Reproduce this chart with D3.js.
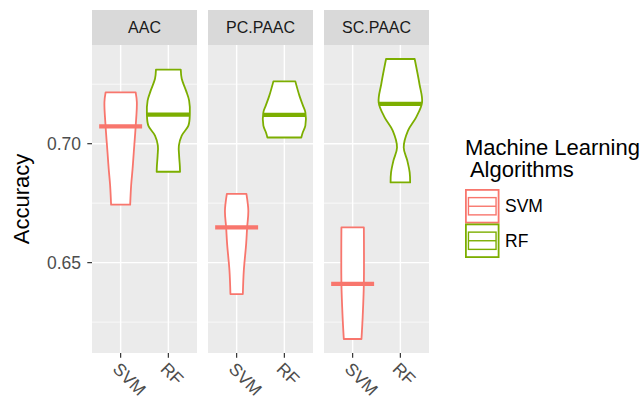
<!DOCTYPE html>
<html>
<head>
<meta charset="utf-8">
<script src="https://cdn.jsdelivr.net/npm/d3@7"></script>
<style>
  html, body { margin: 0; padding: 0; background: #ffffff; }
  svg { display: block; font-family: "Liberation Sans", Arial, Helvetica, sans-serif; }
</style>
</head>
<body>
<svg id="chart" width="643" height="399"></svg>
<script>
// Feature encodings (facets) and classifiers (x categories)
const features = ["AAC", "PC.PAAC", "SC.PAAC"];
const algorithms = ["SVM", "RF"];
const algoColors = ["#F8766D", "#7CAE00"];

// Median accuracy per feature, one array per algorithm (order follows `features`)
const svmMedians = [0.7073, 0.6648, 0.6411];
const rfMedians  = [0.7122, 0.7121, 0.7167];

// Violin outlines: [accuracy, width in category units], top to bottom
const aacSvmProfile = [[0.7216, 0.63], [0.7174, 0.68], [0.7073, 0.63], [0.6963, 0.55], [0.6894, 0.50], [0.6824, 0.44], [0.6744, 0.40]];
const aacRfProfile  = [[0.7311, 0.52], [0.7273, 0.56], [0.7223, 0.74], [0.7181, 0.87], [0.7126, 0.90], [0.7076, 0.84], [0.7034, 0.56], [0.6992, 0.44], [0.6950, 0.45], [0.6908, 0.48], [0.6882, 0.49]];
const pcSvmProfile  = [[0.6789, 0.41], [0.6718, 0.49], [0.6648, 0.44], [0.6580, 0.40], [0.6466, 0.30], [0.6368, 0.26]];
const pcRfProfile   = [[0.7262, 0.46], [0.7202, 0.63], [0.7160, 0.78], [0.7132, 0.88], [0.7076, 0.88], [0.7047, 0.77], [0.7026, 0.71]];
const scSvmProfile  = [[0.6648, 0.47], [0.6411, 0.47], [0.6270, 0.42], [0.6179, 0.37]];
const scRfProfile   = [[0.7356, 0.60], [0.7251, 0.80], [0.7174, 0.91], [0.7111, 0.66], [0.7055, 0.32], [0.6984, 0.14], [0.6929, 0.29], [0.6879, 0.39], [0.6837, 0.41]];

// Y axis ticks
const majorTicks = [0.65, 0.70];
const minorTicks = [0.625, 0.675, 0.725];
const tickLabels = ["0.65", "0.70"];

const profiles = {
  "AAC":     { SVM: aacSvmProfile, RF: aacRfProfile },
  "PC.PAAC": { SVM: pcSvmProfile,  RF: pcRfProfile },
  "SC.PAAC": { SVM: scSvmProfile,  RF: scRfProfile }
};
const medians = { SVM: svmMedians, RF: rfMedians };

const svg = d3.select("#chart");

// Layout
const panelTop = 45, panelBottom = 353, stripTop = 10;
const panelLeft = 92, panelWidth = 105, panelGap = 11;

// Y scale with 5% expansion of the data range
const allAcc = Object.values(profiles).flatMap(p => [...p.SVM, ...p.RF]).map(d => d[0]);
const lo = d3.min(allAcc), hi = d3.max(allAcc), pad = (hi - lo) * 0.05;
const y = d3.scaleLinear().domain([lo - pad, hi + pad]).range([panelBottom, panelTop]);

const color = d3.scaleOrdinal().domain(algorithms).range(algoColors);

features.forEach((feat, fi) => {
  const x0 = panelLeft + fi * (panelWidth + panelGap);
  const x = d3.scalePoint().domain(algorithms).range([x0, x0 + panelWidth]).padding(0.6);
  const step = x.step();
  const g = svg.append("g");

  // panel background
  g.append("rect").attr("x", x0).attr("y", panelTop)
    .attr("width", panelWidth).attr("height", panelBottom - panelTop)
    .attr("fill", "#EBEBEB");

  // strip
  g.append("rect").attr("x", x0).attr("y", stripTop)
    .attr("width", panelWidth).attr("height", panelTop - stripTop)
    .attr("fill", "#D9D9D9");
  g.append("text").attr("x", x0 + panelWidth / 2).attr("y", 33.3)
    .attr("text-anchor", "middle").attr("font-size", 16).attr("fill", "#1A1A1A")
    .text(feat);

  // grid
  g.selectAll(".minor").data(minorTicks).join("line")
    .attr("x1", x0).attr("x2", x0 + panelWidth)
    .attr("y1", d => y(d)).attr("y2", d => y(d))
    .attr("stroke", "#ffffff").attr("stroke-width", 0.7);
  g.selectAll(".major").data(majorTicks).join("line")
    .attr("x1", x0).attr("x2", x0 + panelWidth)
    .attr("y1", d => y(d)).attr("y2", d => y(d))
    .attr("stroke", "#ffffff").attr("stroke-width", 1.4);
  g.selectAll(".vmajor").data(algorithms).join("line")
    .attr("x1", d => x(d)).attr("x2", d => x(d))
    .attr("y1", panelTop).attr("y2", panelBottom)
    .attr("stroke", "#ffffff").attr("stroke-width", 1.4);

  // violins
  algorithms.forEach(algo => {
    const cx = x(algo);
    const area = d3.area()
      .y(d => y(d[0]))
      .x0(d => cx - d[1] * step / 2)
      .x1(d => cx + d[1] * step / 2)
      .curve(d3.curveCatmullRom.alpha(0.5));
    g.append("path").datum(profiles[feat][algo])
      .attr("d", area)
      .attr("fill", "#ffffff")
      .attr("stroke", color(algo))
      .attr("stroke-width", 1.8)
      .attr("stroke-linejoin", "round");
  });

  // median crossbars
  algorithms.forEach(algo => {
    const m = medians[algo][fi];
    const cx = x(algo);
    g.append("line")
      .attr("x1", cx - 0.45 * step).attr("x2", cx + 0.45 * step)
      .attr("y1", y(m)).attr("y2", y(m))
      .attr("stroke", color(algo)).attr("stroke-width", 4.2);
  });

  // x axis ticks and labels
  g.selectAll(".xtick").data(algorithms).join("line")
    .attr("x1", d => x(d)).attr("x2", d => x(d))
    .attr("y1", panelBottom).attr("y2", panelBottom + 4.7)
    .attr("stroke", "#333333").attr("stroke-width", 1.2);
  g.selectAll(".xlab").data(algorithms).join("text")
    .attr("transform", d => `translate(${x(d)},${panelBottom + 8}) rotate(45)`)
    .attr("x", 0).attr("y", 12.6)
    .attr("font-size", 17.5).attr("fill", "#4D4D4D")
    .text(d => d);
});

// y axis ticks and labels
const ya = svg.append("g");
ya.selectAll("line").data(majorTicks).join("line")
  .attr("x1", panelLeft - 4.7).attr("x2", panelLeft)
  .attr("y1", d => y(d)).attr("y2", d => y(d))
  .attr("stroke", "#333333").attr("stroke-width", 1.2);
ya.selectAll("text").data(majorTicks).join("text")
  .attr("x", 81).attr("y", d => y(d)).attr("dy", "0.35em")
  .attr("text-anchor", "end").attr("font-size", 17.5).attr("fill", "#4D4D4D")
  .text((d, i) => tickLabels[i]);

// y axis title
svg.append("text")
  .attr("transform", `translate(29,${(panelTop + panelBottom) / 2}) rotate(-90)`)
  .attr("text-anchor", "middle").attr("font-size", 22).attr("fill", "#000000")
  .text("Accuracy");

// legend
const lg = svg.append("g");
lg.append("text").attr("x", 465).attr("y", 155)
  .attr("font-size", 22).attr("fill", "#000000").text("Machine Learning");
lg.append("text").attr("x", 465).attr("y", 177.3)
  .attr("font-size", 22).attr("fill", "#000000")
  .attr("xml:space", "preserve").style("white-space", "pre")
  .text(" Algorithms");

const keySize = 34.5, keyX = 465, keyY0 = 189;
algorithms.forEach((algo, i) => {
  const ky = keyY0 + i * keySize;
  lg.append("rect").attr("x", keyX + 0.9).attr("y", ky + 0.9)
    .attr("width", keySize - 1.8).attr("height", keySize - 1.8)
    .attr("fill", "#ffffff").attr("stroke", color(algo)).attr("stroke-width", 1.8);
  lg.append("rect").attr("x", keyX + keySize * 0.1).attr("y", ky + keySize * 0.25)
    .attr("width", keySize * 0.8).attr("height", keySize * 0.5)
    .attr("fill", "none").attr("stroke", color(algo)).attr("stroke-width", 1.4);
  lg.append("line").attr("x1", keyX + keySize * 0.1).attr("x2", keyX + keySize * 0.9)
    .attr("y1", ky + keySize / 2).attr("y2", ky + keySize / 2)
    .attr("stroke", color(algo)).attr("stroke-width", 1.4);
  lg.append("text").attr("x", 505).attr("y", ky + keySize / 2).attr("dy", "0.35em")
    .attr("font-size", 17.5).attr("fill", "#000000").text(algo);
});
</script>
</body>
</html>
